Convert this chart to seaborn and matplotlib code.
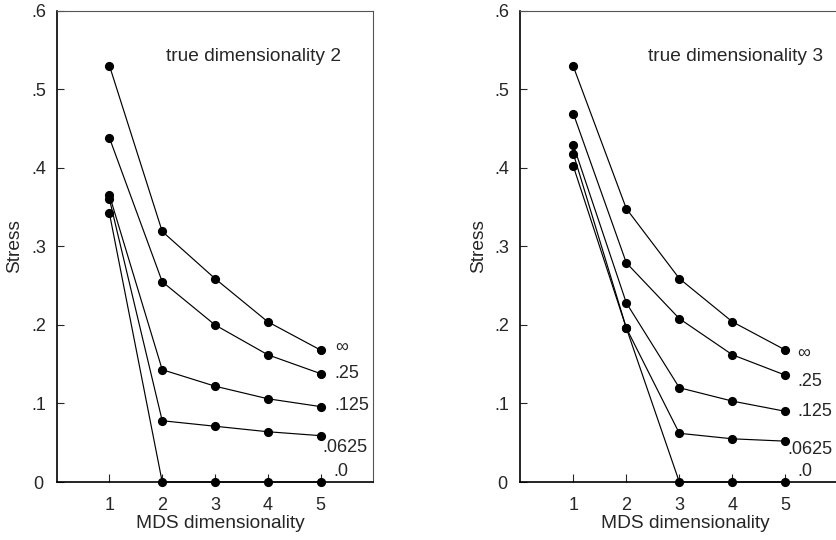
import matplotlib
matplotlib.use("Agg")
import matplotlib.pyplot as plt
import numpy as np
import pandas as pd
import seaborn as sns

# MDS dimensionality on the x axis
mds_dims = [1, 2, 3, 4, 5]
noise_labels = ["\u221e", ".25", ".125", ".0625", ".0"]

# Stress values, true dimensionality 2
stress_true2 = {
    "\u221e":   [0.530, 0.319, 0.259, 0.204, 0.168],
    ".25":   [0.438, 0.255, 0.200, 0.162, 0.138],
    ".125":  [0.365, 0.143, 0.122, 0.106, 0.096],
    ".0625": [0.360, 0.078, 0.071, 0.064, 0.059],
    ".0":    [0.342, 0.000, 0.000, 0.000, 0.000],
}

# Stress values, true dimensionality 3
stress_true3 = {
    "\u221e":   [0.529, 0.348, 0.259, 0.204, 0.168],
    ".25":   [0.469, 0.279, 0.208, 0.162, 0.136],
    ".125":  [0.429, 0.228, 0.120, 0.103, 0.090],
    ".0625": [0.418, 0.196, 0.062, 0.055, 0.052],
    ".0":    [0.402, 0.196, 0.000, 0.000, 0.000],
}

panel_titles = ["true dimensionality 2", "true dimensionality 3"]
y_ticks = [0, 0.1, 0.2, 0.3, 0.4, 0.5, 0.6]
y_tick_labels = ["0", ".1", ".2", ".3", ".4", ".5", ".6"]

sns.set_style("ticks")
plt.rcParams["font.family"] = ["Liberation Sans", "DejaVu Sans"]


def long_form(table):
    rows = []
    for lab in noise_labels:
        for d, s in zip(mds_dims, table[lab]):
            rows.append({"dim": d, "stress": s, "noise": lab})
    return pd.DataFrame(rows)


fig = plt.figure(figsize=(8.36, 5.40), dpi=100)
ax_left = fig.add_axes([0.0678, 0.1074, 0.3787, 0.8728])
ax_right = fig.add_axes([0.6224, 0.1074, 0.3804, 0.8728])

# label placement next to the last point: (x, y) in data units
label_pos = [
    {"\u221e": (5.27, 0.172), ".25": (5.27, 0.138), ".125": (5.27, 0.097),
     ".0625": (5.03, 0.044), ".0": (5.25, 0.014)},
    {"\u221e": (5.23, 0.164), ".25": (5.23, 0.128), ".125": (5.23, 0.090),
     ".0625": (5.03, 0.041), ".0": (5.23, 0.013)},
]
title_pos = [(2.08, 0.542), (2.415, 0.542)]

for i, (ax, table) in enumerate(zip([ax_left, ax_right], [stress_true2, stress_true3])):
    df = long_form(table)
    sns.lineplot(
        data=df, x="dim", y="stress", hue="noise", hue_order=noise_labels,
        palette=["black"] * len(noise_labels), marker="o", markersize=6.6,
        markeredgecolor="black", markeredgewidth=0, linewidth=0.85,
        errorbar=None, legend=False, ax=ax, clip_on=False, zorder=3,
    )
    ax.set_xlim(0, 6)
    ax.set_ylim(0, 0.6)
    ax.set_xticks(mds_dims)
    ax.set_xticklabels([str(d) for d in mds_dims])
    ax.set_yticks(y_ticks)
    ax.set_yticklabels(y_tick_labels)
    ax.tick_params(axis="x", direction="in", length=6, width=0.8, pad=11,
                   labelsize=13, top=False)
    ax.tick_params(axis="y", direction="in", length=5, width=0.8, pad=13,
                   labelsize=13, right=False)
    for t in ax.get_yticklabels():
        t.set_horizontalalignment("center")

    for side in ["left", "bottom"]:
        ax.spines[side].set_color("black")
        ax.spines[side].set_linewidth(1.2)
    for side in ["top", "right"]:
        ax.spines[side].set_visible(True)
        ax.spines[side].set_color("#555555")
        ax.spines[side].set_linewidth(0.8)

    ax.set_xlabel("MDS dimensionality", fontsize=13.8)
    ax.set_ylabel("Stress", fontsize=13.8)
    ax.xaxis.set_label_coords(0.518, -0.071)
    ax.yaxis.label.set_verticalalignment("center")
    ax.yaxis.set_label_coords(-0.132, 0.5)

    tx, ty = title_pos[i]
    ax.text(tx, ty, panel_titles[i], fontsize=13.8, ha="left", va="center")

    for lab in noise_labels:
        lx, ly = label_pos[i][lab]
        ax.text(lx, ly, lab, fontsize=13, ha="left", va="center", clip_on=False)

fig.savefig("out.png", dpi=100)
